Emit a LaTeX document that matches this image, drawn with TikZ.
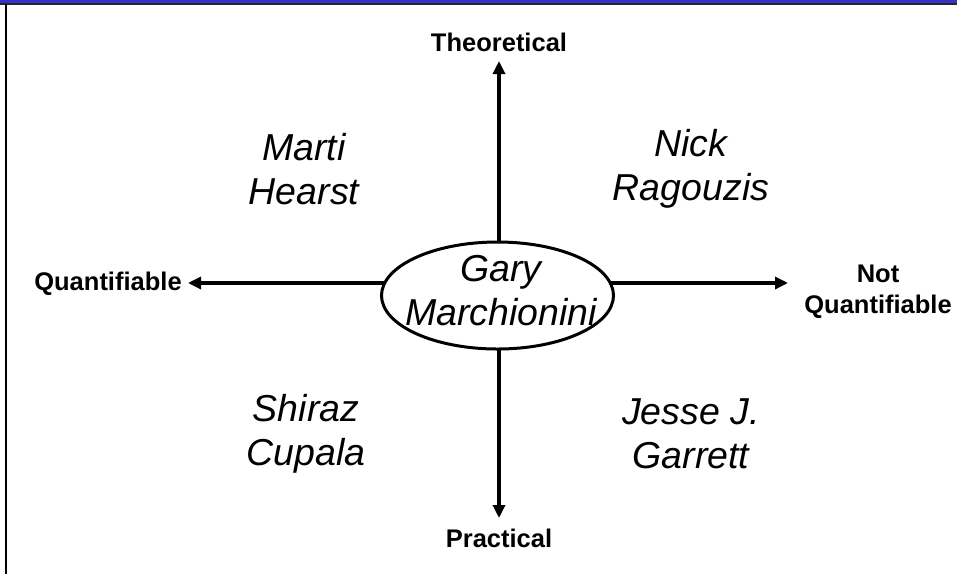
\documentclass[tikz,border=0pt]{standalone}
\usepackage{fontspec}
\setmainfont{Liberation Sans}
\usetikzlibrary{shapes.geometric,arrows.meta}
\definecolor{bandblue}{RGB}{51,51,204}
\begin{document}
\begin{tikzpicture}[x=1pt,y=-1pt,
  person/.style={font=\fontsize{37.5}{44}\selectfont\itshape, align=center, inner sep=0pt},
  axislabel/.style={font=\fontsize{25.5}{31}\selectfont\bfseries, align=center, inner sep=0pt},
  axisline/.style={line width=3.2pt, -{Triangle[length=13pt,width=12pt]}},
  hubshape/.style={ellipse, draw, line width=3pt, fill=white, minimum width=232pt, minimum height=107pt, inner sep=0pt},
]
\useasboundingbox (0,0) rectangle (957,574);
\fill[white] (0,0) rectangle (957,574);
\fill[bandblue] (0,0) rectangle (957,3.5);
\draw[line width=1.5pt, black!85] (0,4) -- (957,4);
\draw[line width=2.5pt] (6,4) -- (6,574);

\coordinate (hub) at (499,283);
\coordinate (tT) at (499,61);
\coordinate (tB) at (499,518);
\coordinate (tL) at (188,283);
\coordinate (tR) at (788,283);

\draw[axisline] (hub) -- (tT);
\draw[axisline] (hub) -- (tB);
\draw[axisline] (hub) -- (tL);
\draw[axisline] (hub) -- (tR);

\node[hubshape] (gary) at (497.5,295.5) {};
\node[person] (garytext) at (501,291) {Gary\\Marchionini};

\node[axislabel] (theo) at (499,42) {Theoretical};
\node[axislabel] (prac) at (499,538) {Practical};
\node[axislabel] (quant) at (108,284) {Quantifiable};
\node[axislabel] (notq) at (878,292) {Not\\Quantifiable};

\node[person] (marti) at (304,169) {Marti\\Hearst};
\node[person] (nick) at (691,169) {Nick\\Ragouzis};
\node[person] (shiraz) at (306,434) {Shiraz\\Cupala};
\node[person] (jesse) at (691,434) {Jesse J.\\Garrett};
\end{tikzpicture}
\end{document}
